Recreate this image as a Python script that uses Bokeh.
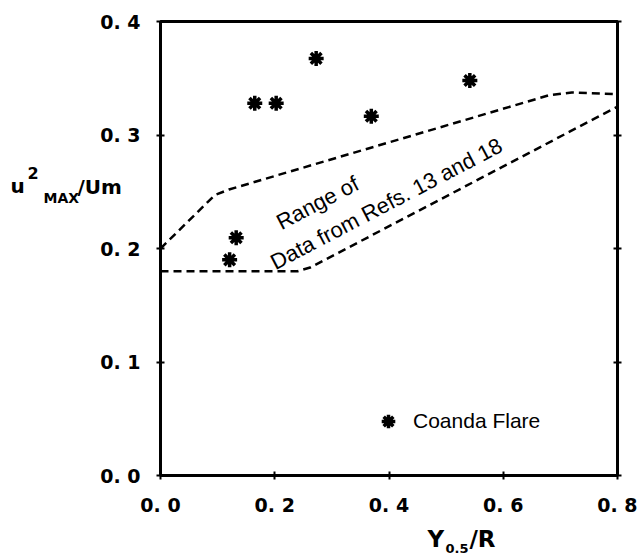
from bokeh.plotting import figure
from bokeh.models import Range1d, FixedTicker, LinearAxis, Label, Legend, LegendItem, ColumnDataSource
from bokeh.embed import file_html
from bokeh.resources import INLINE

# ---------------- data ----------------
coanda_x = [0.121, 0.1325, 0.165, 0.2025, 0.2725, 0.369, 0.5415]
coanda_y = [0.190, 0.2095, 0.328, 0.328, 0.3675, 0.3165, 0.348]

range_upper_x = [0.0, 0.095, 0.12, 0.68, 0.72, 0.8]
range_upper_y = [0.200, 0.247, 0.252, 0.335, 0.3375, 0.336]
range_lower_x = [0.0, 0.24, 0.262, 0.8]
range_lower_y = [0.180, 0.180, 0.1832, 0.325]

x_ticks = [0.0, 0.2, 0.4, 0.6, 0.8]
x_tick_labels = ["0. 0", "0. 2", "0. 4", "0. 6", "0. 8"]
y_ticks = [0.0, 0.1, 0.2, 0.3, 0.4]
y_tick_labels = ["0. 0", "0. 1", "0. 2", "0. 3", "0. 4"]

series_name = "Coanda Flare"
region_line1 = "Range of"
region_line2 = "Data from Refs. 13 and 18"

# ---------------- layout ----------------
W, H = 637, 556
LEFT, RIGHT, TOP, BOTTOM = 160, 20, 21, 81
X0, X1 = 0.0, 0.8
Y0, Y1 = 0.0, 0.4
FW = W - LEFT - RIGHT
FH = H - TOP - BOTTOM


def dx(px):
    return X0 + (px - LEFT) / FW * (X1 - X0)


def dy(py):
    return Y0 + (H - BOTTOM - py) / FH * (Y1 - Y0)


p = figure(width=W, height=H, output_backend="svg", toolbar_location=None,
           x_range=Range1d(X0, X1), y_range=Range1d(Y0, Y1),
           min_border_left=LEFT, min_border_right=RIGHT,
           min_border_top=TOP, min_border_bottom=BOTTOM)
p.grid.visible = False
p.background_fill_color = "white"
p.border_fill_color = "white"
p.outline_line_color = "black"
p.outline_line_width = 3

TICK_FONT = "DejaVu Sans"


def style_axis(ax, ticks, labels):
    ax.ticker = FixedTicker(ticks=ticks)
    ax.major_label_overrides = {t: l for t, l in zip(ticks, labels)}
    ax.minor_tick_line_color = None
    ax.major_tick_in = 4
    ax.major_tick_out = 4
    ax.major_tick_line_width = 2
    ax.major_tick_line_color = "black"
    ax.axis_line_width = 3
    ax.axis_line_color = "black"
    ax.major_label_text_font = TICK_FONT
    ax.major_label_text_font_style = "bold"
    ax.major_label_text_font_size = "19px"
    ax.major_label_text_color = "black"
    ax.major_label_standoff = 16


style_axis(p.xaxis[0], x_ticks, x_tick_labels)
p.xaxis[0].major_label_standoff = 14
style_axis(p.yaxis[0], y_ticks, y_tick_labels)

# tick marks on the right-hand frame edge (no labels)
right_ax = LinearAxis()
style_axis(right_ax, y_ticks, ["" for _ in y_ticks])
right_ax.major_label_standoff = 0
right_ax.major_label_text_font_size = "1px"
p.add_layout(right_ax, "right")

# region of earlier data (dashed)
p.line(range_upper_x, range_upper_y, line_color="black", line_width=2.5, line_dash="8 5")
p.line(range_lower_x, range_lower_y, line_color="black", line_width=2.5, line_dash="8 5")

# Coanda flare points
src = ColumnDataSource(dict(x=coanda_x, y=coanda_y))
pts = p.scatter("x", "y", source=src, marker="asterisk", size=15, line_width=3.5,
                line_color="black", fill_color="black")

legend = Legend(items=[LegendItem(label=series_name, renderers=[pts])],
                location=(211, 37), padding=0, margin=0, spacing=0,
                glyph_width=34, glyph_height=34, label_height=20, label_standoff=8,
                border_line_alpha=0, background_fill_alpha=0,
                label_text_font="Liberation Sans", label_text_font_size="21px",
                label_text_color="black")
p.add_layout(legend, "center")

ANG = 0.482
p.add_layout(Label(x=dx(277.5), y=dy(223.0), text=region_line1, angle=ANG,
                   text_font="Liberation Sans", text_font_size="22px",
                   text_baseline="alphabetic", text_align="left", text_color="black"))
p.add_layout(Label(x=dx(271.5), y=dy(263.0), text=region_line2, angle=ANG,
                   text_font="Liberation Sans", text_font_size="22px",
                   text_baseline="alphabetic", text_align="left", text_color="black"))

# axis titles composed of pieces (super/subscripts); they live in the side
# panels (so they are not clipped to the frame) but are positioned in data units
AX_FONT = "DejaVu Sans"


def piece(txt, px, py, size, side):
    p.add_layout(Label(x=dx(px), y=dy(py), text=txt, text_font=AX_FONT,
                       text_font_style="bold", text_font_size=size,
                       text_baseline="alphabetic", text_align="left",
                       text_color="black"), side)


piece("u", 10, 185, "20px", "left")
piece("MAX", 43, 197, "14px", "left")
piece("/Um", 77, 186, "20px", "left")
piece("2", 27, 172, "16px", "right")

piece("Y\u2003\u200a/R", 427, 538, "23px", "below")
piece("0.5", 445, 548, "13px", "above")

open("out.html", "w").write(file_html(p, INLINE))
